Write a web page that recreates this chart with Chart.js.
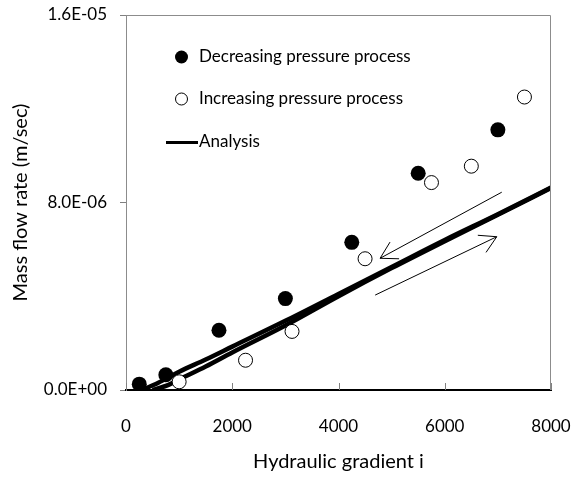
<!DOCTYPE html>
<html>
<head>
<meta charset="utf-8">
<script src="https://cdn.jsdelivr.net/npm/chart.js@4.4.1/dist/chart.umd.min.js"></script>
<style>
html, body { margin: 0; padding: 0; background: #fff; overflow: hidden; }
canvas { display: block; }
</style>
</head>
<body>
<canvas id="chartCanvas" width="579" height="477"></canvas>
<script>
// measured points
const decX = [250, 750, 1750, 3000, 4250, 5500, 7000];
const decY = [2.5e-7, 6.5e-7, 2.55e-6, 3.9e-6, 6.3e-6, 9.25e-6, 1.11e-5];
const incX = [1000, 2250, 3125, 4500, 5750, 6500, 7500];
const incY = [3.5e-7, 1.27e-6, 2.5e-6, 5.6e-6, 8.85e-6, 9.55e-6, 1.25e-5];

// analysis curves (decreasing / increasing)
const anaDecX = [300, 600, 1000, 1500, 2000, 3000, 4000, 5000, 6000, 7000, 8000];
const anaDecY = [0, 3.0e-7, 7.8e-7, 1.3e-6, 1.85e-6, 2.95e-6, 4.1e-6, 5.25e-6, 6.4e-6, 7.5e-6, 8.64e-6];
const anaIncX = [500, 800, 1000, 1500, 2000, 3000, 4000, 5000, 6000, 7000, 8000];
const anaIncY = [0, 2.2e-7, 4.5e-7, 1.0e-6, 1.6e-6, 2.75e-6, 4.0e-6, 5.2e-6, 6.35e-6, 7.48e-6, 8.62e-6];

// direction arrows (tail -> head)
const arrowFromX = [7073, 4690];
const arrowFromY = [8.44e-6, 4.05e-6];
const arrowToX = [4783, 6979];
const arrowToY = [5.62e-6, 6.54e-6];

const xTicks = [0, 2000, 4000, 6000, 8000];
const yTicks = [0, 8e-6, 1.6e-5];

const FONT = "Lato, 'Liberation Sans', sans-serif";

function pts(xs, ys) {
    return xs.map((v, i) => ({ x: v, y: ys[i] }));
}

function sci(v) {
    if (v === 0) return "0.0E+00";
    const e = Math.floor(Math.log10(Math.abs(v)));
    const m = v / Math.pow(10, e);
    return m.toFixed(1) + "E" + (e < 0 ? "-" : "+") + String(Math.abs(e)).padStart(2, "0");
}

const extras = {
    id: "extras",
    afterDraw(chart) {
        const ctx = chart.ctx;
        const a = chart.chartArea;
        const x = chart.scales.x, y = chart.scales.y;
        ctx.save();

        // top and right frame
        ctx.strokeStyle = "#8c8c8c";
        ctx.lineWidth = 1;
        ctx.beginPath();
        ctx.moveTo(a.left, a.top + 0.5);
        ctx.lineTo(a.right - 0.5, a.top + 0.5);
        ctx.lineTo(a.right - 0.5, a.bottom);
        ctx.stroke();

        // inward ticks on x axis
        ctx.strokeStyle = "#808080";
        ctx.beginPath();
        xTicks.forEach(v => {
            const px = Math.round(x.getPixelForValue(v)) + 0.5;
            ctx.moveTo(px, a.bottom);
            ctx.lineTo(px, a.bottom - 7);
        });
        ctx.stroke();

        // arrows
        ctx.strokeStyle = "#000";
        ctx.lineWidth = 1;
        arrowFromX.forEach((fx, i) => {
            const x0 = x.getPixelForValue(fx), y0 = y.getPixelForValue(arrowFromY[i]);
            const x1 = x.getPixelForValue(arrowToX[i]), y1 = y.getPixelForValue(arrowToY[i]);
            const ang = Math.atan2(y0 - y1, x0 - x1);
            const len = 19;
            ctx.beginPath();
            ctx.moveTo(x0, y0);
            ctx.lineTo(x1, y1);
            ctx.moveTo(x1 + len * Math.cos(ang - Math.PI / 6), y1 + len * Math.sin(ang - Math.PI / 6));
            ctx.lineTo(x1, y1);
            ctx.lineTo(x1 + len * Math.cos(ang + Math.PI / 6), y1 + len * Math.sin(ang + Math.PI / 6));
            ctx.stroke();
        });

        // legend inside plot
        ctx.font = "17px " + FONT;
        ctx.textBaseline = "middle";
        const sets = chart.data.datasets;
        ctx.beginPath();
        ctx.arc(181.5, 57, 6.5, 0, Math.PI * 2);
        ctx.fillStyle = "#000";
        ctx.fill();
        ctx.fillText(sets[0].label, 199, 57);
        ctx.beginPath();
        ctx.arc(181.5, 99, 6, 0, Math.PI * 2);
        ctx.fillStyle = "#fff";
        ctx.fill();
        ctx.strokeStyle = "#000";
        ctx.stroke();
        ctx.fillStyle = "#000";
        ctx.fillText(sets[1].label, 199, 99);
        ctx.beginPath();
        ctx.lineWidth = 3;
        ctx.moveTo(166, 142.5);
        ctx.lineTo(198, 142.5);
        ctx.stroke();
        ctx.fillText("Analysis", 199, 142);
        ctx.restore();
    }
};

const ctx = document.getElementById("chartCanvas").getContext("2d");
const chart = new Chart(ctx, {
    type: "scatter",
    data: {
        datasets: [
            {
                label: "Decreasing pressure process",
                data: pts(decX, decY),
                pointRadius: 7.5,
                pointBackgroundColor: "#000",
                pointBorderColor: "#000",
                pointBorderWidth: 0
            },
            {
                label: "Increasing pressure process",
                data: pts(incX, incY),
                pointRadius: 7,
                pointBackgroundColor: "#fff",
                pointBorderColor: "#000",
                pointBorderWidth: 1
            },
            {
                label: "Analysis",
                data: pts(anaDecX, anaDecY),
                showLine: true,
                pointRadius: 0,
                borderColor: "#000",
                borderWidth: 4.5,
                cubicInterpolationMode: "monotone"
            },
            {
                label: "Analysis (increasing)",
                data: pts(anaIncX, anaIncY),
                showLine: true,
                pointRadius: 0,
                borderColor: "#000",
                borderWidth: 4.5,
                cubicInterpolationMode: "monotone"
            }
        ]
    },
    options: {
        responsive: false,
        animation: false,
        events: [],
        layout: { padding: { top: 15, right: 28, left: 0, bottom: 0 } },
        plugins: {
            legend: { display: false },
            tooltip: { enabled: false }
        },
        scales: {
            x: {
                type: "linear",
                min: 0,
                max: 8000,
                afterBuildTicks: s => { s.ticks = xTicks.map(v => ({ value: v })); },
                afterFit: s => { s.height = 87; s.paddingLeft = 0; s.paddingRight = 0; },
                border: { color: "#000", width: 2 },
                grid: { drawOnChartArea: false, drawTicks: false },
                ticks: {
                    padding: 26,
                    color: "#000",
                    font: { family: FONT, size: 17 },
                    callback: v => String(v)
                },
                title: {
                    display: true,
                    text: "Hydraulic gradient i",
                    color: "#000",
                    font: { family: FONT, size: 20 },
                    padding: { top: 0, bottom: 3 }
                }
            },
            y: {
                type: "linear",
                min: 0,
                max: 1.6e-5,
                afterBuildTicks: s => { s.ticks = yTicks.map(v => ({ value: v })); },
                afterFit: s => { s.width = 126; s.paddingTop = 0; s.paddingBottom = 0; },
                border: { color: "#8c8c8c", width: 1 },
                grid: { drawOnChartArea: false, drawTicks: true, tickLength: 6, color: "#808080" },
                ticks: {
                    padding: 13,
                    color: "#000",
                    font: { family: FONT, size: 17 },
                    callback: v => sci(v)
                },
                title: {
                    display: true,
                    text: "Mass flow rate (m/sec)",
                    color: "#000",
                    font: { family: FONT, size: 20 },
                    padding: { top: 9, bottom: 0 }
                }
            }
        }
    },
    plugins: [extras]
});
</script>
</body>
</html>
